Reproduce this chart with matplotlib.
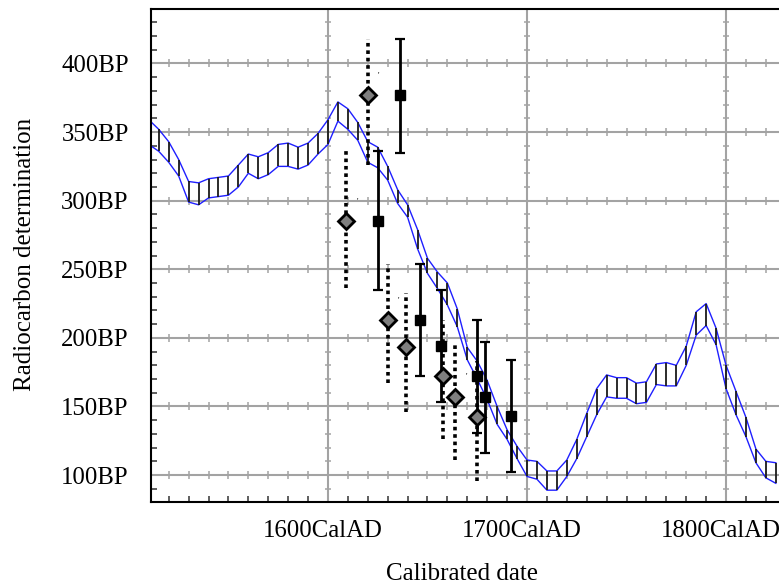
import numpy as np
import matplotlib
matplotlib.use("Agg")
import matplotlib.pyplot as plt
from matplotlib import transforms
from matplotlib.ticker import FuncFormatter, MultipleLocator

plt.rcParams['font.family'] = ['Liberation Serif', 'DejaVu Serif']

# calibration curve, 1 sigma envelope every 5 years
cal_years = np.arange(1510, 1830, 5)
cal_upper = [359, 352, 343, 330, 314, 313, 316, 317, 318, 326, 334, 332, 335, 341, 342, 339,
             342, 349, 359, 372, 367, 357, 343, 339, 325, 308, 297, 279, 258, 248, 240, 221,
             193, 183, 169, 150, 133, 121, 111, 110, 103, 103, 111, 126, 145, 163, 173, 171,
             171, 167, 168, 181, 182, 180, 194, 219, 225, 207, 180, 161, 142, 119, 110, 109]
cal_lower = [341, 336, 328, 318, 299, 297, 302, 303, 304, 310, 320, 316, 319, 325, 325, 323,
             326, 334, 341, 358, 352, 344, 328, 324, 315, 298, 288, 265, 247, 236, 224, 208,
             184, 170, 155, 137, 126, 112, 99, 97, 89, 89, 99, 112, 128, 144, 157, 156,
             156, 152, 153, 166, 165, 165, 180, 202, 209, 195, 163, 144, 128, 109, 98, 94]

# measured dates (squares, solid bars)
sq_year = [1636, 1625, 1646, 1657, 1675, 1679, 1692]
sq_bp = [377, 285, 213, 194, 172, 157, 143]
sq_hi = [418, 336, 254, 235, 213, 197, 184]
sq_lo = [335, 235, 172, 153, 131, 116, 102]

# modelled dates (diamonds, dotted bars)
dm_year = [1620, 1609, 1630, 1639, 1658, 1664, 1675]
dm_bp = [377, 285, 213, 193, 172, 157, 142]
dm_hi = [418, 336, 254, 233, 213, 197, 183]
dm_lo = [326, 236, 167, 146, 126, 111, 96]

W, H = 779, 586
fig = plt.figure(figsize=(W / 100, H / 100), dpi=100)
ax = fig.add_axes([151 / W, (H - 501.7) / H, (W - 151) / W, (501.7 - 9.3) / H])
ax.set_xlim(1511.1, 1826.6)
ax.set_ylim(80.6, 439.5)

# grid + the little crosses along the grid lines
grid_col = '#a3a3a3'
xmaj = [1600, 1700, 1800]
ymaj = np.arange(100, 401, 50)
for gx in xmaj:
    ax.axvline(gx, color=grid_col, lw=1.5, zorder=0)
for gy in ymaj:
    ax.axhline(gy, color=grid_col, lw=1.5, zorder=0)
xmin_t = [v for v in range(1520, 1830, 10) if v % 100]
ymin_t = [v for v in range(90, 440, 10) if v % 50]
for gy in ymaj:
    ax.plot(xmin_t, [gy] * len(xmin_t), ls='none', marker='|', ms=6, mew=1.1,
            color=grid_col, zorder=0)
for gx in xmaj:
    ax.plot([gx] * len(ymin_t), ymin_t, ls='none', marker='_', ms=5, mew=1.1,
            color=grid_col, zorder=0)

# calibration curve
ax.plot(cal_years, cal_upper, color='#1f1fff', lw=1.0, zorder=2)
ax.plot(cal_years, cal_lower, color='#1f1fff', lw=1.0, zorder=2)
ax.vlines(cal_years, cal_lower, cal_upper, color='#1a1a1a', lw=1.3, zorder=2)

# dotted ranges + diamonds
ax.vlines(dm_year, dm_lo, dm_hi, color='black', lw=2.6, linestyles=(0, (1, 1.05)), zorder=3)
ax.plot(dm_year, dm_bp, ls='none', marker='D', ms=8.4, mfc='#7f7f7f', mec='black', mew=2.0, zorder=5)
for x, y in zip(dm_year, dm_bp):
    ax.annotate("'", (x, y), xytext=(8, 14), textcoords='offset points',
                fontsize=6, ha='center', va='center', zorder=4)

# solid ranges + squares
sq_err = [np.subtract(sq_bp, sq_lo), np.subtract(sq_hi, sq_bp)]
ax.errorbar(sq_year, sq_bp, yerr=sq_err, fmt='s', ms=7, color='black', ecolor='black',
            elinewidth=2.0, capsize=3.5, capthick=1.6, zorder=4)

# axes styling
for side in ['left', 'bottom', 'top']:
    ax.spines[side].set_linewidth(1.5)
    ax.spines[side].set_color('black')
ax.spines['right'].set_visible(False)

ax.set_xticks(xmaj)
ax.set_yticks(ymaj)
ax.xaxis.set_minor_locator(MultipleLocator(10))
ax.yaxis.set_minor_locator(MultipleLocator(10))
ax.xaxis.set_major_formatter(FuncFormatter(lambda v, p: f"{v:.0f}CalAD"))
ax.yaxis.set_major_formatter(FuncFormatter(lambda v, p: f"{v:.0f}BP"))
ax.tick_params(which='major', length=0, labelsize=17.8)
ax.tick_params(axis='x', which='major', pad=13)
ax.tick_params(axis='y', which='major', pad=16)
ax.tick_params(which='minor', direction='in', length=4.5, width=1.1, color='#333333')
ax.tick_params(top=False, right=False, which='both')

shift = transforms.ScaledTranslation(-5 / 100, 0, fig.dpi_scale_trans)
for lab in ax.get_xticklabels():
    lab.set_transform(lab.get_transform() + shift)

fig.text(462 / W, (H - 580) / H, "Calibrated date", ha='center', va='baseline', fontsize=18)
fig.text(25 / W, 1 - 254 / H, "Radiocarbon determination", rotation=90,
         ha='center', va='center', fontsize=18)

fig.savefig("out.png", dpi=100)
